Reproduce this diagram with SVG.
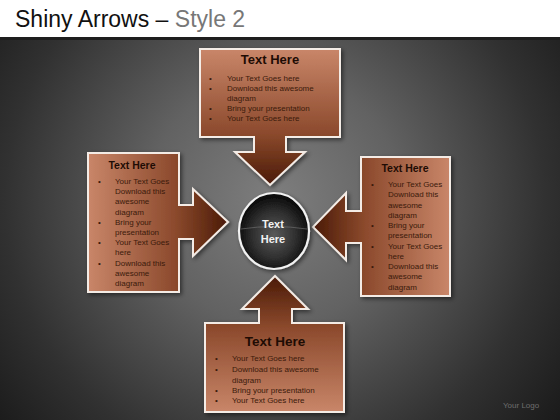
<svg xmlns="http://www.w3.org/2000/svg" width="560" height="420" viewBox="0 0 560 420">
<defs>
<radialGradient id="bg" cx="275" cy="200" r="360" gradientUnits="userSpaceOnUse">
<stop offset="0" stop-color="#7e7e7e"/>
<stop offset="0.35" stop-color="#626262"/>
<stop offset="0.75" stop-color="#313131"/>
<stop offset="1" stop-color="#1a1a1a"/>
</radialGradient>
<linearGradient id="gTop" x1="0" y1="49" x2="0" y2="185" gradientUnits="userSpaceOnUse">
<stop offset="0" stop-color="#c98669"/><stop offset="0.62" stop-color="#8c4a2d"/><stop offset="1" stop-color="#4a1a06"/>
</linearGradient>
<linearGradient id="gLeft" x1="88" y1="0" x2="228" y2="0" gradientUnits="userSpaceOnUse">
<stop offset="0" stop-color="#c98669"/><stop offset="0.62" stop-color="#8c4a2d"/><stop offset="1" stop-color="#4a1a06"/>
</linearGradient>
<linearGradient id="gRight" x1="450" y1="0" x2="313" y2="0" gradientUnits="userSpaceOnUse">
<stop offset="0" stop-color="#c98669"/><stop offset="0.62" stop-color="#8c4a2d"/><stop offset="1" stop-color="#4a1a06"/>
</linearGradient>
<linearGradient id="gBot" x1="0" y1="412" x2="0" y2="276" gradientUnits="userSpaceOnUse">
<stop offset="0" stop-color="#c98669"/><stop offset="0.62" stop-color="#8c4a2d"/><stop offset="1" stop-color="#4a1a06"/>
</linearGradient>
<radialGradient id="gCirc" cx="0.5" cy="0.55" r="0.55">
<stop offset="0" stop-color="#5a5a5a"/><stop offset="0.6" stop-color="#2c2c2c"/><stop offset="1" stop-color="#050505"/>
</radialGradient>
<filter id="sh" x="-10%" y="-10%" width="125%" height="125%">
<feDropShadow dx="2" dy="2" stdDeviation="2" flood-color="#000" flood-opacity="0.5"/>
</filter>
<style>
.shape{stroke:#f4ece6;stroke-width:2;stroke-linejoin:miter;filter:url(#sh)}
.h{font-family:"Liberation Sans",Arial,sans-serif;font-weight:bold;fill:#1e0c04;text-anchor:middle}
.b{font-family:"Liberation Sans",Arial,sans-serif;font-size:8px;fill:#3b1a0b}
.c{font-family:"Liberation Sans",Arial,sans-serif;font-weight:bold;font-size:11px;fill:#f2f2f2;text-anchor:middle}
</style>
</defs>
<rect x="0" y="0" width="560" height="420" fill="#ffffff"/>
<rect x="0" y="37" width="560" height="383" fill="url(#bg)"/>
<rect x="0" y="37" width="560" height="3" fill="#1e1e1e"/>
<text x="15" y="27" font-family="Liberation Sans,Arial,sans-serif" font-size="23" fill="#111">Shiny Arrows – <tspan fill="#777">Style 2</tspan></text>
<text x="503" y="408" font-family="Liberation Sans,Arial,sans-serif" font-size="8" fill="#6e6e6e">Your Logo</text>

<g id="connectors"></g>

<g id="node-top">
<polygon class="shape" fill="url(#gTop)" points="200,49 340,49 340,137 286,137 286,152 305,152 270,185 235,152 254,152 254,137 200,137"/>
<text class="h" x="270" y="64" font-size="13">Text Here</text>
<g class="b">
<text x="209" y="81">•</text><text x="227" y="81">Your Text Goes here</text>
<text x="209" y="91">•</text><text x="227" y="91">Download this awesome</text>
<text x="227" y="101">diagram</text>
<text x="209" y="111">•</text><text x="227" y="111">Bring your presentation</text>
<text x="209" y="121">•</text><text x="227" y="121">Your Text Goes here</text>
</g>
</g>

<g id="node-left">
<polygon class="shape" fill="url(#gLeft)" points="88,153 179,153 179,205 193,205 193,189 228,222 193,256 193,239 179,239 179,292 88,292"/>
<text class="h" x="132" y="169" font-size="10.5">Text Here</text>
<g class="b">
<text x="98" y="184">•</text><text x="115" y="184">Your Text Goes</text>
<text x="115" y="194">Download this</text>
<text x="115" y="204">awesome</text>
<text x="115" y="214.5">diagram</text>
<text x="98" y="224.5">•</text><text x="115" y="224.5">Bring your</text>
<text x="115" y="234.5">presentation</text>
<text x="98" y="245">•</text><text x="115" y="245">Your Text Goes</text>
<text x="115" y="255">here</text>
<text x="98" y="265.5">•</text><text x="115" y="265.5">Download this</text>
<text x="115" y="275.5">awesome</text>
<text x="115" y="286">diagram</text>
</g>
</g>

<g id="node-right">
<polygon class="shape" fill="url(#gRight)" points="450,157 361,157 361,211 346,211 346,193 313,227 346,260 346,243 361,243 361,296 450,296"/>
<text class="h" x="405" y="172" font-size="10.5">Text Here</text>
<g class="b">
<text x="371" y="187">•</text><text x="388" y="187">Your Text Goes</text>
<text x="388" y="197">Download this</text>
<text x="388" y="207.5">awesome</text>
<text x="388" y="217.5">diagram</text>
<text x="371" y="228">•</text><text x="388" y="228">Bring your</text>
<text x="388" y="238">presentation</text>
<text x="371" y="248.5">•</text><text x="388" y="248.5">Your Text Goes</text>
<text x="388" y="258.5">here</text>
<text x="371" y="269">•</text><text x="388" y="269">Download this</text>
<text x="388" y="279">awesome</text>
<text x="388" y="289.5">diagram</text>
</g>
</g>

<g id="node-bottom">
<polygon class="shape" fill="url(#gBot)" points="205,412 344,412 344,323 292,323 292,309 308,309 275,276 242,309 259,309 259,323 205,323"/>
<text class="h" x="275" y="346" font-size="13.5">Text Here</text>
<g class="b">
<text x="215" y="361">•</text><text x="232" y="361">Your Text Goes here</text>
<text x="215" y="372">•</text><text x="232" y="372">Download this awesome</text>
<text x="232" y="382.5">diagram</text>
<text x="215" y="393">•</text><text x="232" y="393">Bring your presentation</text>
<text x="215" y="403">•</text><text x="232" y="403">Your Text Goes here</text>
</g>
</g>

<g id="node-center">
<ellipse cx="274" cy="231" rx="35" ry="38" fill="url(#gCirc)" stroke="#f2f2f2" stroke-width="2.2" filter="url(#sh)"/>
<path d="M241,229 Q274,224 307,229" fill="none" stroke="#777" stroke-width="1" opacity="0.6"/>
<text class="c" x="273" y="228">Text</text>
<text class="c" x="273" y="243">Here</text>
</g>
</svg>
